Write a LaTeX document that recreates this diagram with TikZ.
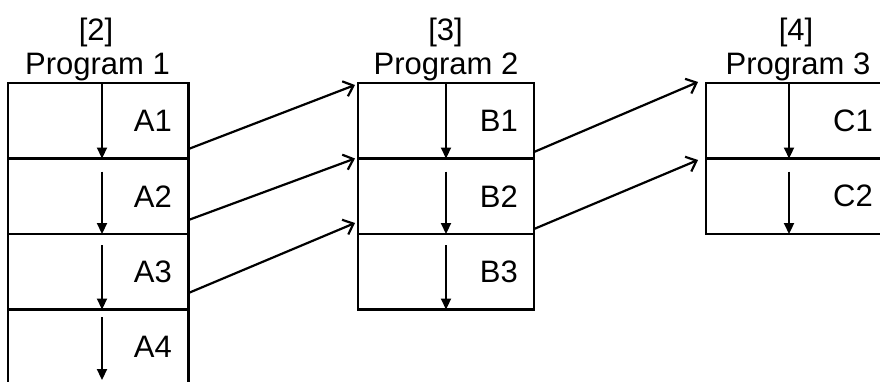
\documentclass[tikz,border=0pt]{standalone}
\usepackage{fontspec}
\setmainfont{Liberation Sans}
\usetikzlibrary{arrows.meta}
\begin{document}
\begin{tikzpicture}[x=1pt,y=-1pt,
  cell/.style={draw,line width=2.7pt,anchor=north west,inner sep=0pt,outer sep=0pt,minimum height=75.5pt},
  colA/.style={cell,minimum width=180.5pt},
  colB/.style={cell,minimum width=176pt},
  colC/.style={cell,minimum width=183pt},
  lbl/.style={anchor=east,inner sep=0pt,font=\fontsize{31}{37}\selectfont},
  ttl/.style={anchor=base,inner sep=0pt,font=\fontsize{31}{37}\selectfont},
  flow/.style={line width=2.2pt,-{Triangle[length=11pt,width=10pt]}},
  link/.style={line width=2.2pt,line cap=round,-{Straight Barb[length=9pt,width=16pt,line width=2.2pt]}}]
\clip (0,0) rectangle (880,381);

% Program 1 cells
\node[colA] (a1) at (8,83) {};
\node[colA] (a2) at (8,158.5) {};
\node[colA] (a3) at (8,234) {};
\node[colA] (a4) at (8,309.5) {};
% Program 2 cells
\node[colB] (b1) at (358,83) {};
\node[colB] (b2) at (358,158.5) {};
\node[colB] (b3) at (358,234) {};
% Program 3 cells
\node[colC] (c1) at (706,83) {};
\node[colC] (c2) at (706,158.5) {};

% column headings
\node[ttl] (n2) at (96,40) {[2]};
\node[ttl] (h1) at (97.5,74) {Program 1};
\node[ttl] (n3) at (445.5,40) {[3]};
\node[ttl] (h2) at (446,74) {Program 2};
\node[ttl] (n4) at (796,40) {[4]};
\node[ttl] (h3) at (798,74) {Program 3};

% cell labels
\node[lbl] (la1) at ([xshift=-16.5pt]a1.east) {A1};
\node[lbl] (la2) at ([xshift=-16.5pt]a2.east) {A2};
\node[lbl] (la3) at ([xshift=-16.5pt]a3.east) {A3};
\node[lbl] (la4) at ([xshift=-16.5pt]a4.east) {A4};
\node[lbl] (lb1) at ([xshift=-16pt]b1.east) {B1};
\node[lbl] (lb2) at ([xshift=-16pt]b2.east) {B2};
\node[lbl] (lb3) at ([xshift=-16pt]b3.east) {B3};
\node[lbl] (lc1) at ([xshift=-16pt]c1.east) {C1};
\node[lbl] (lc2) at ([xshift=-16pt]c2.east) {C2};

% downward flow inside each program
\draw[flow] ([xshift=94pt]a1.north west) -- ([xshift=94pt]a1.south west);
\draw[flow] ([xshift=94pt,yshift=-13pt]a2.north west) -- ([xshift=94pt]a2.south west);
\draw[flow] ([xshift=94pt,yshift=-11pt]a3.north west) -- ([xshift=94pt]a3.south west);
\draw[flow] ([xshift=94pt,yshift=-7.5pt]a4.north west) -- ([xshift=94pt,yshift=5pt]a4.south west);
\draw[flow] ([xshift=88pt]b1.north west) -- ([xshift=88pt]b1.south west);
\draw[flow] ([xshift=88pt,yshift=-13pt]b2.north west) -- ([xshift=88pt]b2.south west);
\draw[flow] ([xshift=88pt,yshift=-11pt]b3.north west) -- ([xshift=88pt]b3.south west);
\draw[flow] ([xshift=83pt]c1.north west) -- ([xshift=83pt]c1.south west);
\draw[flow] ([xshift=83pt,yshift=-13pt]c2.north west) -- ([xshift=83pt]c2.south west);

% links between programs
\draw[link] ([yshift=-28.25pt]a1.east) -- ([xshift=-3pt,yshift=-2pt]b1.north west);
\draw[link] ([yshift=-23.75pt]a2.east) -- ([xshift=-3pt]b2.north west);
\draw[link] ([yshift=-21.25pt]a3.east) -- ([xshift=-3pt,yshift=11pt]b3.north west);
\draw[link] ([yshift=-31.25pt]b1.east) -- ([xshift=-8pt,yshift=1pt]c1.north west);
\draw[link] ([yshift=-32.75pt]b2.east) -- ([xshift=-8pt,yshift=-1.5pt]c2.north west);
\end{tikzpicture}
\end{document}
